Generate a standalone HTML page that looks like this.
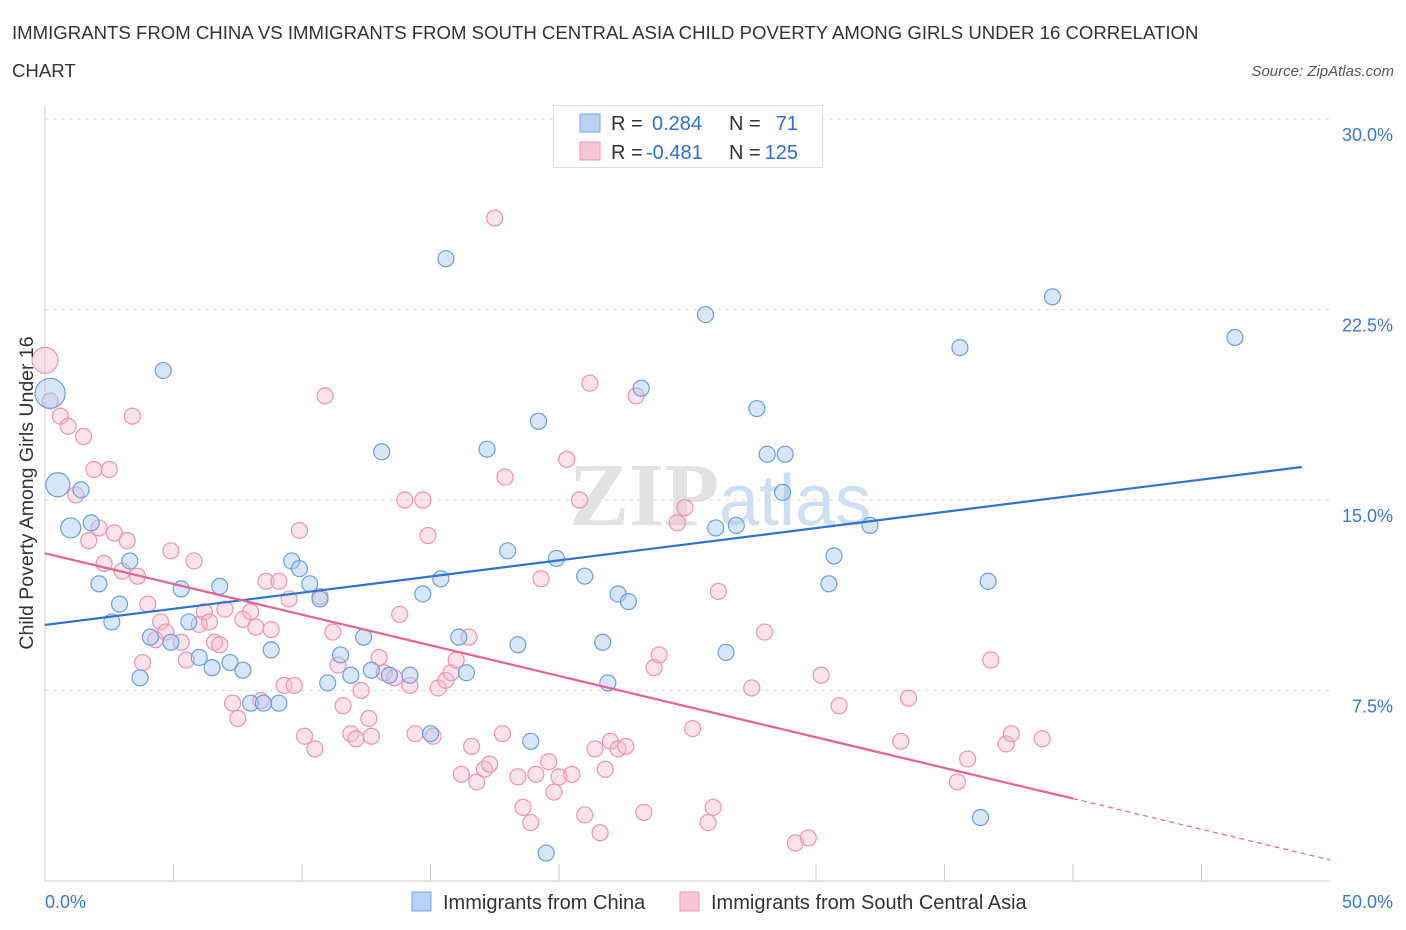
<!DOCTYPE html>
<html><head><meta charset="utf-8"><style>
body{margin:0;background:#fff;font-family:"Liberation Sans",sans-serif;}
svg{display:block}
</style></head><body>
<svg id="chart" width="1406" height="930">
<text x="12" y="39" font-size="18.6" fill="#333">IMMIGRANTS FROM CHINA VS IMMIGRANTS FROM SOUTH CENTRAL ASIA CHILD POVERTY AMONG GIRLS UNDER 16 CORRELATION</text>
<text x="12" y="77" font-size="18.6" fill="#333">CHART</text>
<text x="1394" y="76" font-size="15" fill="#555" font-style="italic" text-anchor="end">Source: ZipAtlas.com</text>
<text x="720" y="525" font-size="90" fill="#e2e2e2" text-anchor="middle" font-family="Liberation Serif,serif" font-weight="bold">ZIP<tspan fill="#cfdff2" font-family="Liberation Sans,sans-serif" font-weight="normal" font-size="72">atlas</tspan></text>
<g id="grid"></g><g id="axes"></g><g id="pts"></g><g id="lines"></g>
<text x="33" y="493" font-size="19.5" fill="#333" text-anchor="middle" transform="rotate(-90 33 493)">Child Poverty Among Girls Under 16</text>
<g>
<rect x="553.5" y="105.5" width="269" height="62" fill="#fff" stroke="#ddd"/>
<rect x="580" y="114" width="20" height="18" fill="#b8d2f5" stroke="#7aa6e2"/>
<rect x="580" y="142" width="20" height="18" fill="#f9c4d4" stroke="#ee9ab4"/>
<text x="611" y="130" font-size="20" fill="#333">R = </text><text x="652" y="130" font-size="20" fill="#2f6fd0">0.284</text>
<text x="729" y="130" font-size="20" fill="#333">N = </text><text x="798" y="130" font-size="20" fill="#2f6fd0" text-anchor="end">71</text>
<text x="611" y="159" font-size="20" fill="#333">R = </text><text x="646" y="159" font-size="20" fill="#2f6fd0">-0.481</text>
<text x="729" y="159" font-size="20" fill="#333">N = </text><text x="798" y="159" font-size="20" fill="#2f6fd0" text-anchor="end">125</text>
</g>
<g>
<rect x="412" y="892" width="19" height="19" fill="#b8d2f5" stroke="#7aa6e2"/>
<text x="443" y="909" font-size="20" fill="#333">Immigrants from China</text>
<rect x="680" y="892" width="19" height="19" fill="#f9c4d4" stroke="#ee9ab4"/>
<text x="711" y="909" font-size="20" fill="#333">Immigrants from South Central Asia</text>
</g>
</svg>
<script>
const yTicks=[7.5,15,22.5,30];
const yTickLabels=["7.5%","15.0%","22.5%","30.0%"];
const xLabels=["0.0%","50.0%"];
const chinaX=[0.2,0.5,1.0,1.4,1.8,2.1,2.6,2.9,3.3,3.7,4.1,4.6,4.9,5.3,5.6,6.0,6.5,6.8,7.2,7.7,8.0,8.5,9.1,8.8,9.6,9.9,10.3,10.7,11.0,11.5,11.9,12.4,12.7,13.1,13.4,14.2,14.7,15.0,15.4,15.6,16.1,16.4,17.2,18.0,18.4,18.9,19.2,19.5,19.9,21.0,21.7,21.9,22.3,22.7,23.2,25.7,26.1,26.5,26.9,27.7,28.1,28.7,28.8,30.5,30.7,32.1,35.6,36.7,36.4,39.2,46.3];
const chinaY=[19.2,15.6,13.9,15.4,14.1,11.7,10.2,10.9,12.6,8.0,9.6,20.1,9.4,11.5,10.2,8.8,8.4,11.6,8.6,8.3,7.0,7.0,7.0,9.1,12.6,12.3,11.7,11.1,7.8,8.9,8.1,9.6,8.3,16.9,8.1,8.1,11.3,5.8,11.9,24.5,9.6,8.2,17.0,13.0,9.3,5.5,18.1,1.1,12.7,12.0,9.4,7.8,11.3,11.0,19.4,22.3,13.9,9.0,14.0,18.6,16.8,15.3,16.8,11.7,12.8,14.0,21.0,11.8,2.5,23.0,21.4];
const chinaSize=[15,12,10];
const scaX=[0.0,0.2,0.6,0.9,1.2,1.5,1.7,1.9,2.1,2.3,2.5,2.7,3.0,3.2,3.4,3.6,3.8,4.0,4.3,4.5,4.7,4.9,5.3,5.5,5.8,6.0,6.2,6.4,6.6,6.8,7.0,7.3,7.5,7.7,8.0,8.2,8.4,8.6,8.8,9.1,9.3,9.5,9.7,9.9,10.1,10.5,10.7,10.9,11.2,11.4,11.6,11.9,12.1,12.3,12.6,12.7,13.0,13.2,13.6,13.8,14.0,14.2,14.4,14.7,14.9,15.1,15.3,15.6,15.8,16.0,16.2,16.5,16.6,16.8,17.1,17.3,17.5,17.8,17.9,18.4,18.6,18.9,19.1,19.3,19.6,19.8,20.0,20.3,20.5,20.8,21.0,21.2,21.4,21.6,21.8,22.0,22.3,22.6,23.0,23.3,23.7,23.9,24.6,24.9,25.2,25.8,26.0,26.2,27.5,28.0,29.2,29.7,30.2,30.9,33.3,33.6,35.5,35.9,36.8,37.4,37.6,38.8];
const scaY=[20.5,18.9,18.3,17.9,15.2,17.5,13.4,16.2,13.9,12.5,16.2,13.7,12.2,13.4,18.3,12.0,8.6,10.9,9.5,10.2,9.8,13.0,9.4,8.7,12.6,10.1,10.6,10.2,9.4,9.3,10.7,7.0,6.4,10.3,10.6,10.0,7.1,11.8,9.9,11.8,7.7,11.1,7.7,13.8,5.7,5.2,11.2,19.1,9.8,8.5,6.9,5.8,5.6,7.5,6.4,5.7,8.8,8.2,8.0,10.5,15.0,7.7,5.8,15.0,13.6,5.7,7.6,7.9,8.2,8.7,4.2,9.6,5.3,3.9,4.4,4.6,26.1,5.8,15.9,4.1,2.9,2.3,4.2,11.9,4.7,3.5,4.1,16.6,4.2,15.0,2.6,19.6,5.2,1.9,4.4,5.5,5.2,5.3,19.1,2.7,8.4,8.9,14.1,14.7,6.0,2.3,2.9,11.4,7.6,9.8,1.5,1.7,8.1,6.9,5.5,7.2,3.9,4.8,8.7,5.4,5.8,5.6];
const scaSize=[13];
const chinaTrend=[10.08,16.3];const chinaTrendX=[0,48.9];
const scaTrend=[12.9,0.83];const scaTrendX=[0,50];const scaSolidEnd=40;

const NS="http://www.w3.org/2000/svg";
const xs=v=>45+v*25.7, ys=v=>881-v*25.4;
function mk(t,a,p){const e=document.createElementNS(NS,t);for(const k in a)e.setAttribute(k,a[k]);p.appendChild(e);return e;}
const grid=document.getElementById('grid'),axes=document.getElementById('axes'),pts=document.getElementById('pts'),lines=document.getElementById('lines');
yTicks.forEach((t,i)=>{
 const l=mk('line',{x1:45,x2:1330,y1:ys(t),y2:ys(t),stroke:'#ddd','stroke-dasharray':'4 4'},grid);
 
 
 const tx=mk('text',{x:1393,y:ys(t)+22,'font-size':18,fill:'#3a78d4','text-anchor':'end'},axes);tx.textContent=yTickLabels[i];
 
 
});
const al=mk('line',{x1:45,x2:45,y1:105,y2:881,stroke:'#ccc'},axes);


const bl=mk('line',{x1:45,x2:1330,y1:881,y2:881,stroke:'#ccc'},axes);


for(let v=0;v<=50;v+=5){const t=mk('line',{x1:xs(v),x2:xs(v),y1:881,y2:v%25==0?881:864,stroke:'#ccc'},axes);
 
 }
[[0,'start',45],[50,'end',1393]].forEach((d,i)=>{const t=mk('text',{x:d[2],y:908,'font-size':18,fill:'#3a78d4','text-anchor':d[1]},axes);t.textContent=xLabels[i];
 
 });
function draw(X,Y,S,fill,stroke,name){X.forEach((x,i)=>{const c=mk('circle',{cx:xs(x),cy:ys(Y[i]),r:S[i]||8,fill:fill,stroke:stroke,'stroke-width':1.2},pts);
 
 });}
draw(scaX,scaY,scaSize,'rgba(248,184,206,0.4)','#ee92b0','sca-point');
draw(chinaX,chinaY,chinaSize,'rgba(167,199,240,0.45)','#6b9ee0','china-point');
const lb=mk('line',{x1:xs(chinaTrendX[0]),y1:ys(chinaTrend[0]),x2:xs(chinaTrendX[1]),y2:ys(chinaTrend[1]),stroke:'#2f72d6','stroke-width':2.2},lines);


const sl=(scaTrend[1]-scaTrend[0])/(scaTrendX[1]-scaTrendX[0]);
const lp=mk('line',{x1:xs(0),y1:ys(scaTrend[0]),x2:xs(scaSolidEnd),y2:ys(scaTrend[0]+sl*scaSolidEnd),stroke:'#e8628f','stroke-width':2.2},lines);


const ld=mk('line',{x1:xs(scaSolidEnd),y1:ys(scaTrend[0]+sl*scaSolidEnd),x2:xs(50),y2:ys(scaTrend[1]),stroke:'#e8628f','stroke-width':1.2,'stroke-dasharray':'5 4'},lines);


</script>
</body></html>
